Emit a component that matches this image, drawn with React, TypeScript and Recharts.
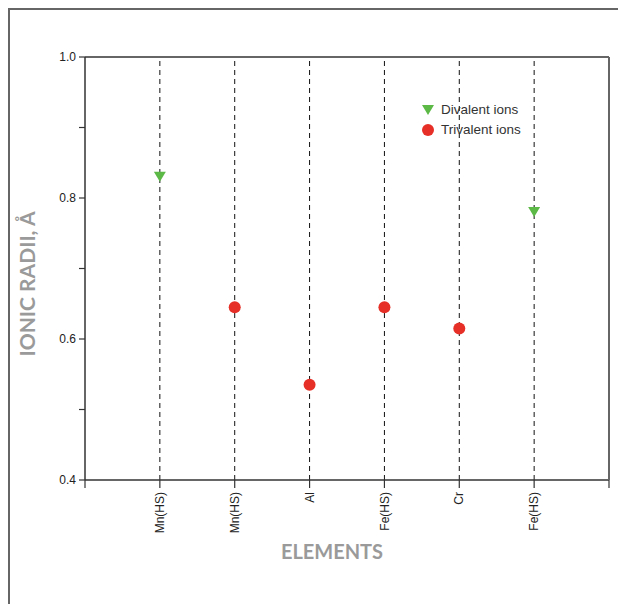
import React from "react";
import {
  ScatterChart, Scatter, XAxis, YAxis, ReferenceLine, Legend, Label,
} from "recharts";

const elements = ["Mn(HS)", "Mn(HS)", "Al", "Fe(HS)", "Cr", "Fe(HS)"];
const divalent: (number | null)[] = [0.83, null, null, null, null, 0.78];
const trivalent: (number | null)[] = [null, 0.645, 0.535, 0.645, 0.615, null];
const radiusTicks = [0.4, 0.5, 0.6, 0.7, 0.8, 0.9, 1.0];
const positionTicks = [0, 1, 2, 3, 4, 5, 6, 7];

const toPoints = (vals: (number | null)[]) =>
  vals
    .map((v, i) => (v == null ? null : { pos: i + 1, radius: v }))
    .filter((p) => p != null);

const divalentData = toPoints(divalent);
const trivalentData = toPoints(trivalent);

const GREEN = "#5cb946";
const RED = "#e63027";
const AXIS = "#333";
const TITLE = "#9a9a9a";
const tickFont = { fontSize: 12, fill: "#222", fontFamily: "Liberation Sans, Arial, sans-serif" };

const DownTriangle = (props: any) => {
  const { cx, cy } = props;
  return <path d={`M${cx - 6},${cy - 5} L${cx + 6},${cy - 5} L${cx},${cy + 5} Z`} fill={GREEN} />;
};

const Dot = (props: any) => <circle cx={props.cx} cy={props.cy} r={6} fill={RED} />;

const ElementTick = (props: any) => {
  const { x, y, payload } = props;
  const label = elements[payload.value - 1];
  if (!label) return null;
  return (
    <text x={x} y={y + 2} transform={`rotate(-90, ${x}, ${y + 2})`} textAnchor="end" dy="0.35em" {...tickFont}>
      {label}
    </text>
  );
};

const LegendBox = () => (
  <div style={{ fontFamily: "Liberation Sans, Arial, sans-serif", fontSize: 13.5, color: "#333", lineHeight: "20px" }}>
    <div style={{ display: "flex", alignItems: "center" }}>
      <svg width={14} height={12} style={{ marginRight: 6 }}>
        <path d="M1,1 L13,1 L7,11 Z" fill={GREEN} />
      </svg>
      Divalent ions
    </div>
    <div style={{ display: "flex", alignItems: "center" }}>
      <svg width={14} height={12} style={{ marginRight: 6 }}>
        <circle cx={7} cy={6} r={6} fill={RED} />
      </svg>
      Trivalent ions
    </div>
  </div>
);

export default function App() {
  return (
    <div style={{ position: "absolute", left: 0, top: 0, width: 618, height: 604, overflow: "hidden", background: "#fff" }}>
      <div
        style={{
          position: "absolute", left: 8, top: 8, width: 610, height: 596, boxSizing: "border-box",
          borderTop: "2px solid #666", borderLeft: "2px solid #666",
        }}
      />
      <div style={{ position: "absolute", left: 0, top: 0 }}>
        <ScatterChart width={618} height={604} margin={{ top: 49, left: 25, right: 1, bottom: 64 }}>
          <XAxis
            xAxisId="bottom" type="number" dataKey="pos" domain={[0, 7]} ticks={positionTicks}
            height={60} tickSize={8} tickMargin={2} tick={<ElementTick />} interval={0}
            axisLine={{ stroke: AXIS, strokeWidth: 1.5 }} tickLine={{ stroke: AXIS, strokeWidth: 1.2 }}
          >
            <Label
              content={() => (
                <text x={332} y={559} textAnchor="middle" fill={TITLE} fontSize={20} fontWeight="bold" fontFamily="Lato, sans-serif">
                  ELEMENTS
                </text>
              )}
            />
          </XAxis>
          <XAxis
            xAxisId="top" orientation="top" type="number" dataKey="pos" domain={[0, 7]} ticks={positionTicks}
            height={8} tickSize={5} tick={false} interval={0}
            axisLine={{ stroke: AXIS, strokeWidth: 1.5 }} tickLine={{ stroke: AXIS, strokeWidth: 1.2 }}
          />
          <YAxis
            yAxisId="left" type="number" dataKey="radius" domain={[0.4, 1.0]} ticks={radiusTicks}
            width={60} tickSize={6} tickMargin={3} tick={tickFont} interval={0}
            tickFormatter={(v: number) => (Math.round(v * 10) % 2 === 0 ? v.toFixed(1) : "")}
            axisLine={{ stroke: AXIS, strokeWidth: 1.5 }} tickLine={{ stroke: AXIS, strokeWidth: 1.2 }}
          >
            <Label
              content={() => (
                <text
                  x={28} y={284} transform="rotate(-90, 28, 284)" textAnchor="middle" dy="0.35em"
                  fill={TITLE} fontSize={21} fontWeight="bold" fontFamily="Lato, sans-serif"
                >
                  IONIC RADII, Å
                </text>
              )}
            />
          </YAxis>
          <YAxis
            yAxisId="right" orientation="right" type="number" dataKey="radius" domain={[0.4, 1.0]} ticks={radiusTicks}
            width={8} tickSize={6} tick={false} interval={0}
            axisLine={{ stroke: "#666", strokeWidth: 2 }} tickLine={{ stroke: AXIS, strokeWidth: 1.2 }}
          />
          {positionTicks.slice(1, 7).map((p) => (
            <ReferenceLine key={p} x={p} xAxisId="bottom" yAxisId="left" stroke="#111" strokeDasharray="5 4" />
          ))}
          <Scatter
            name="Divalent ions" data={divalentData} xAxisId="bottom" yAxisId="left"
            shape={<DownTriangle />} isAnimationActive={false}
          />
          <Scatter
            name="Trivalent ions" data={trivalentData} xAxisId="bottom" yAxisId="left"
            shape={<Dot />} isAnimationActive={false}
          />
          <Legend
            layout="vertical" align="center" verticalAlign="middle" content={<LegendBox />}
            wrapperStyle={{ position: "absolute", left: 421, top: 100, width: 130 }}
          />
        </ScatterChart>
      </div>
    </div>
  );
}
